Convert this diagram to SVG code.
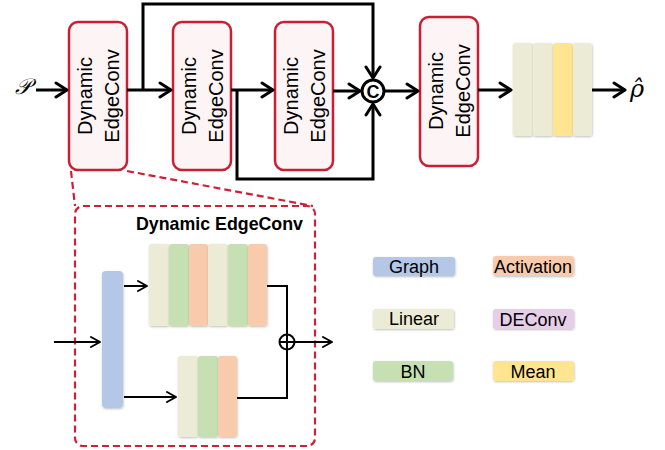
<svg xmlns="http://www.w3.org/2000/svg" width="665" height="450" viewBox="0 0 665 450">
<defs>
  <marker id="ah" markerUnits="userSpaceOnUse" markerWidth="16" markerHeight="18" refX="13" refY="9" orient="auto" viewBox="0 0 16 18">
    <path d="M2,2 L13,9 L2,16" fill="none" stroke="#000" stroke-width="3" stroke-linecap="round" stroke-linejoin="round"/>
  </marker>
  <marker id="ahs" markerUnits="userSpaceOnUse" markerWidth="14" markerHeight="14" refX="11" refY="7" orient="auto" viewBox="0 0 14 14">
    <path d="M2,2 L11,7 L2,12" fill="none" stroke="#000" stroke-width="2" stroke-linecap="round" stroke-linejoin="round"/>
  </marker>
  <filter id="sh" x="-20%" y="-20%" width="140%" height="140%">
    <feDropShadow dx="0.5" dy="1" stdDeviation="1.2" flood-color="#000" flood-opacity="0.25"/>
  </filter>
</defs>
<style>
  .dec rect{fill:#fdf5f5;stroke:#c81f35;stroke-width:2.5}
  .dec text{font-family:"Liberation Sans",Arial,sans-serif;font-size:20px;fill:#000;text-anchor:middle}
  .bar{filter:url(#sh)}
  .lin{fill:#ecebd5}
  .bn{fill:#c6e0b4}
  .act{fill:#f8cbad}
  .gr{fill:#b4c7e7}
  .mean{fill:#ffe591}
  .dc{fill:#e6cde8}
  .con path,.con line{fill:none;stroke:#000}
  .thick{stroke-width:3}
  .thin{stroke-width:2}
  .leg text{font-family:"Liberation Sans",Arial,sans-serif;font-size:18px;fill:#000;text-anchor:middle}
  .red{fill:none;stroke:#d11f38;stroke-width:2.2;stroke-dasharray:7,4}
</style>

<!-- dashed zoom lines and box -->
<g id="zoom-box">
  <line class="red" x1="71" y1="171" x2="75" y2="206"/>
  <line class="red" x1="127" y1="171" x2="313" y2="206"/>
  <rect class="red" x="75" y="206" width="240" height="240" rx="8"/>
  <text x="303" y="230" font-family="Liberation Sans,Arial,sans-serif" font-size="17.8" font-weight="bold" text-anchor="end">Dynamic EdgeConv</text>
</g>

<!-- top nodes -->
<g id="dec1" class="dec">
  <rect x="69" y="22" width="58" height="148" rx="9"/>
  <text transform="translate(98,96) rotate(-90)"><tspan x="0" y="-6">Dynamic</tspan><tspan x="0" y="21">EdgeConv</tspan></text>
</g>
<g id="dec2" class="dec">
  <rect x="173" y="22" width="58" height="148" rx="9"/>
  <text transform="translate(202,96) rotate(-90)"><tspan x="0" y="-6">Dynamic</tspan><tspan x="0" y="21">EdgeConv</tspan></text>
</g>
<g id="dec3" class="dec">
  <rect x="275" y="22" width="58" height="148" rx="9"/>
  <text transform="translate(304,96) rotate(-90)"><tspan x="0" y="-6">Dynamic</tspan><tspan x="0" y="21">EdgeConv</tspan></text>
</g>
<g id="dec4" class="dec">
  <rect x="420" y="17" width="58" height="149" rx="9"/>
  <text transform="translate(449,91) rotate(-90)"><tspan x="0" y="-6">Dynamic</tspan><tspan x="0" y="21">EdgeConv</tspan></text>
</g>

<g id="concat">
  <circle cx="373" cy="91" r="11" fill="#fff" stroke="#000" stroke-width="3"/>
  <text x="373" y="97.5" font-family="Liberation Sans,Arial,sans-serif" font-size="18" font-weight="bold" text-anchor="middle">C</text>
</g>

<g id="head">
  <rect class="bar lin" x="513" y="43" width="20" height="93" rx="3"/>
  <rect class="bar lin" x="533" y="43" width="20" height="93" rx="3"/>
  <rect class="bar mean" x="553" y="43" width="20" height="93" rx="3"/>
  <rect class="bar lin" x="573" y="43" width="19" height="93" rx="3"/>
</g>

<g id="labels">
  <text x="23" y="94" font-family="Liberation Serif,serif" font-size="22" font-style="italic" text-anchor="middle">𝒫</text>
  <text x="637" y="97" font-family="DejaVu Serif,Liberation Serif,serif" font-size="24" font-style="italic" text-anchor="middle">ρ̂</text>
</g>

<!-- inner EdgeConv -->
<g id="graph">
  <rect class="bar gr" x="102" y="271" width="21" height="137" rx="4"/>
</g>
<g id="mlp-top">
  <rect class="bar lin" x="149" y="244" width="20" height="82" rx="3"/>
  <rect class="bar bn" x="169" y="244" width="20" height="82" rx="3"/>
  <rect class="bar act" x="189" y="244" width="19" height="82" rx="3"/>
  <rect class="bar lin" x="208" y="244" width="20" height="82" rx="3"/>
  <rect class="bar bn" x="228" y="244" width="20" height="82" rx="3"/>
  <rect class="bar act" x="248" y="244" width="19" height="82" rx="3"/>
</g>
<g id="mlp-bottom">
  <rect class="bar lin" x="178" y="356" width="20" height="81" rx="3"/>
  <rect class="bar bn" x="198" y="356" width="20" height="81" rx="3"/>
  <rect class="bar act" x="218" y="356" width="19" height="81" rx="3"/>
</g>
<g id="add">
  <circle cx="287" cy="342" r="7.5" fill="none" stroke="#000" stroke-width="2"/>
  <line x1="279.5" y1="342" x2="294.5" y2="342" stroke="#000" stroke-width="2"/>
  <line x1="287" y1="334.5" x2="287" y2="349.5" stroke="#000" stroke-width="2"/>
</g>

<!-- legend -->
<g id="legend" class="leg">
  <rect class="bar gr" x="373" y="257" width="82" height="19" rx="3"/>
  <text x="414" y="273">Graph</text>
  <rect class="bar act" x="493" y="256" width="81" height="20" rx="3"/>
  <text x="533" y="273">Activation</text>
  <rect class="bar lin" x="373" y="309" width="81" height="20" rx="3"/>
  <text x="414" y="325">Linear</text>
  <rect class="bar dc" x="493" y="309" width="81" height="20" rx="3"/>
  <text x="533" y="326">DEConv</text>
  <rect class="bar bn" x="373" y="361" width="80" height="20" rx="3"/>
  <text x="413" y="378">BN</text>
  <rect class="bar mean" x="493" y="361" width="81" height="20" rx="3"/>
  <text x="533" y="378">Mean</text>
</g>

<!-- connectors -->
<g id="connectors" class="con">
  <line class="thick" x1="36" y1="90" x2="67" y2="90" marker-end="url(#ah)"/>
  <line class="thick" x1="127" y1="90" x2="171" y2="90" marker-end="url(#ah)"/>
  <path class="thick" d="M143,90 V4 H373 V78" marker-end="url(#ah)"/>
  <line class="thick" x1="231" y1="90" x2="273" y2="90" marker-end="url(#ah)"/>
  <path class="thick" d="M237,90 V179 H373 V104" marker-end="url(#ah)"/>
  <line class="thick" x1="333" y1="91" x2="360" y2="91" marker-end="url(#ah)"/>
  <line class="thick" x1="385" y1="91" x2="418" y2="91" marker-end="url(#ah)"/>
  <line class="thick" x1="478" y1="90" x2="511" y2="90" marker-end="url(#ah)"/>
  <line class="thick" x1="592" y1="90" x2="625" y2="90" marker-end="url(#ah)"/>

  <line class="thin" x1="54" y1="342" x2="100" y2="342" marker-end="url(#ahs)"/>
  <line class="thin" x1="124" y1="286" x2="147" y2="286" marker-end="url(#ahs)"/>
  <line class="thin" x1="124" y1="397" x2="176" y2="397" marker-end="url(#ahs)"/>
  <path class="thin" d="M267,286 H287 V334.5"/>
  <path class="thin" d="M237,398 H287 V349.5"/>
  <line class="thin" x1="294.5" y1="342" x2="332" y2="342" marker-end="url(#ahs)"/>
</g>
</svg>
